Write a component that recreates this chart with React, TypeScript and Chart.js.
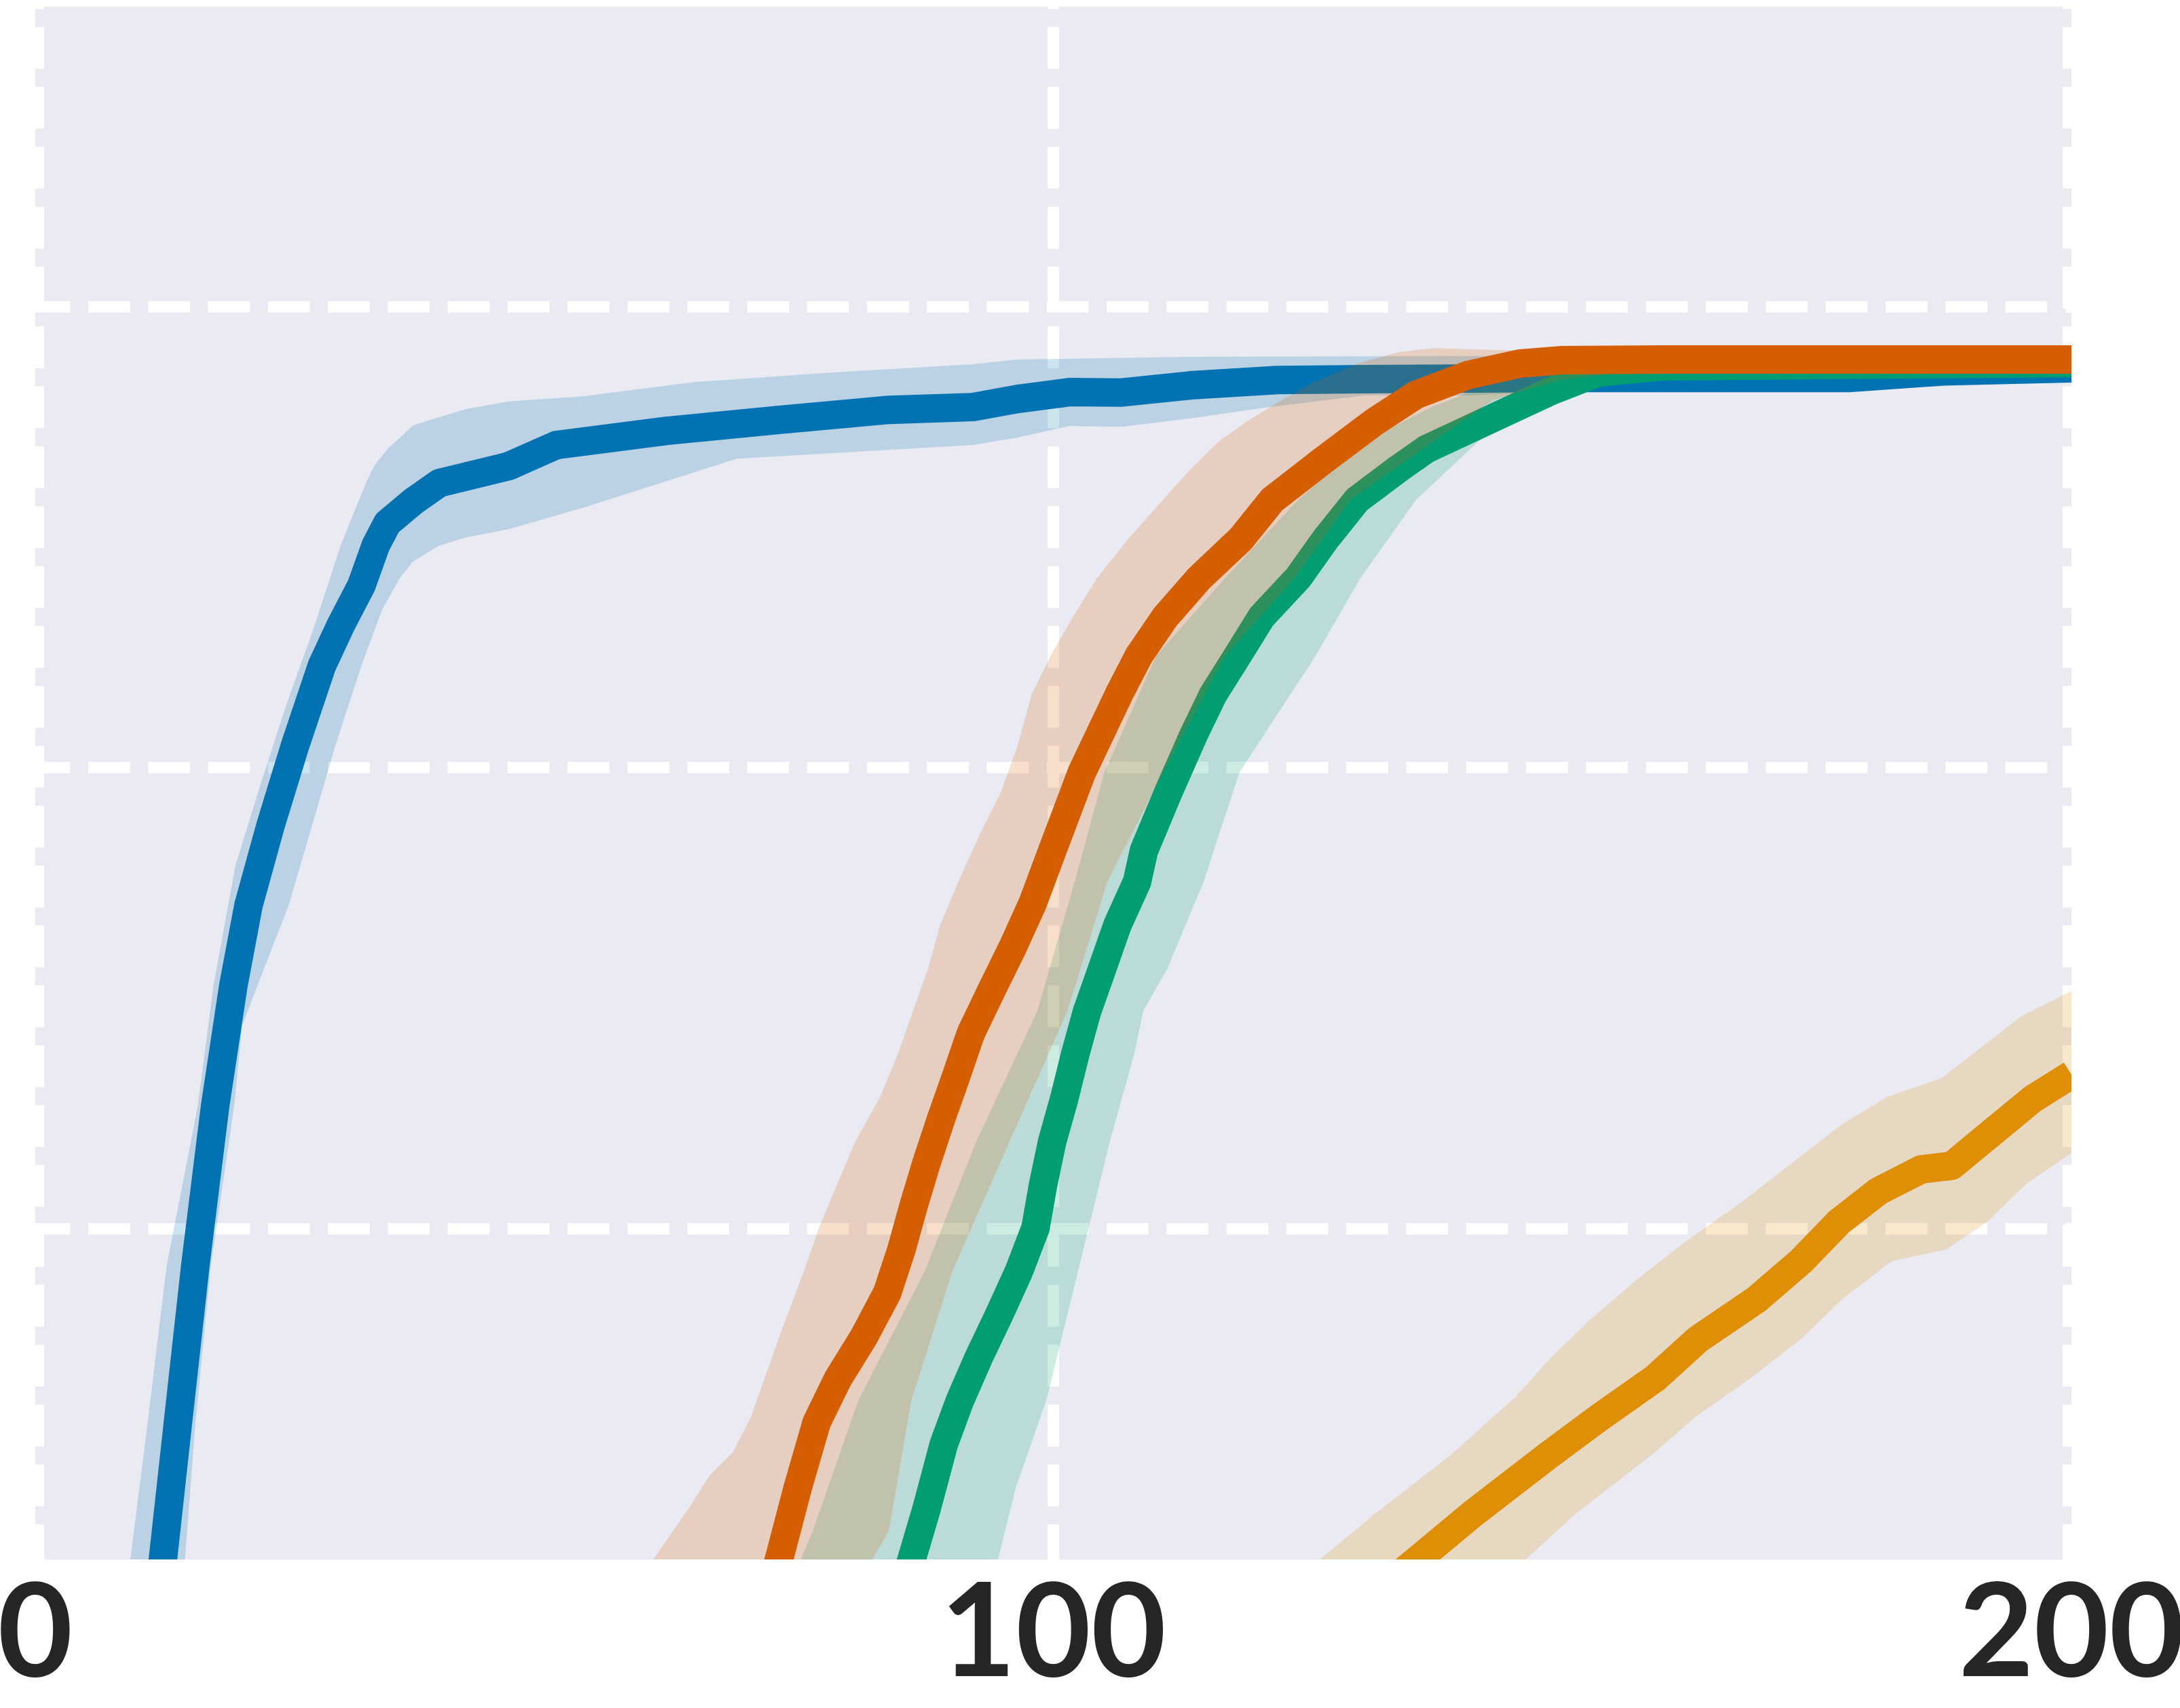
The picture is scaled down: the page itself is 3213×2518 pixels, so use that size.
import React, { useEffect, useRef } from 'react';
import { Chart, registerables } from 'chart.js';

Chart.register(...registerables);

type P = [number, number];

// ---- axis values ----
const xTickValues = [0, 100, 200];
const yGridValues = [0.5, 0.75, 1.0];
const xMin = 0;
const xMax = 200;
const yMin = 0.3204;
const yMax = 1.1629;

// ---- series: blue ----
const blueMean: P[] = [
  [11.8, 0.2833], [12.53, 0.3201], [13.98, 0.3931], [15.72, 0.4799], [17.67, 0.5667], [19.46, 0.6319],
  [20.94, 0.6753], [23.11, 0.7187], [25.52, 0.7621], [28.16, 0.8055], [29.99, 0.8272], [32.04, 0.849],
  [33.44, 0.8706], [34.59, 0.8828], [37.13, 0.8945], [39.69, 0.9045], [46.52, 0.9137], [51.18, 0.9251],
  [62.05, 0.9328], [72.98, 0.9387], [83.91, 0.9442], [92.1, 0.9457], [96.5, 0.9501], [101.6, 0.9538],
  [106.7, 0.9536], [113.5, 0.9575], [122.0, 0.9604], [130.5, 0.9608], [149.8, 0.9615], [178.1, 0.9615],
  [187.8, 0.9652], [200, 0.9667],
];
const blueUpper: P[] = [
  [8.49, 0.2833], [9.33, 0.3201], [11.0, 0.3931], [12.91, 0.4799], [15.97, 0.5667], [17.5, 0.6319],
  [19.66, 0.6969], [22.09, 0.7404], [24.64, 0.7838], [27.44, 0.8272], [29.99, 0.8706], [31.26, 0.888],
  [32.55, 0.9054], [33.31, 0.914], [34.59, 0.9229], [35.85, 0.9293], [37.12, 0.9358], [42.24, 0.9445],
  [46.52, 0.9488], [53.92, 0.9516], [64.78, 0.9593], [78.44, 0.9645], [92.1, 0.9689], [96.5, 0.9715],
  [113.5, 0.973], [130.5, 0.9733], [200, 0.9744],
];
const blueLower: P[] = [
  [14.18, 0.2833], [14.7, 0.3201], [15.71, 0.3931], [17.24, 0.4799], [19.54, 0.5667], [20.31, 0.6101],
  [21.83, 0.6319], [24.89, 0.6753], [27.19, 0.7187], [29.48, 0.7621], [32.04, 0.8055], [34.08, 0.8359],
  [35.85, 0.8533], [37.13, 0.862], [39.69, 0.8706], [42.24, 0.8749], [46.52, 0.8795], [53.92, 0.8913],
  [68.91, 0.9177], [92.1, 0.9251], [96.5, 0.9292], [101.57, 0.9354], [106.7, 0.935], [113.5, 0.9396],
  [120.3, 0.945], [130.5, 0.952], [140.7, 0.952], [149.8, 0.9545], [178.1, 0.9553], [200, 0.9593],
];

// ---- series: orange ----
const orangeMean: P[] = [
  [127.69, 0.2833], [135.73, 0.3201], [141.15, 0.345], [148.55, 0.3766], [153.73, 0.3978], [159.15, 0.4189],
  [163.35, 0.44], [169.01, 0.4612], [173.45, 0.4823], [177.14, 0.5034], [181.07, 0.5203], [185.27, 0.5321],
  [188.24, 0.534], [192.18, 0.552], [196.13, 0.57], [200, 0.5835],
];
const orangeUpper: P[] = [
  [118.09, 0.2833], [126.12, 0.3201], [131.54, 0.345], [138.93, 0.3766], [145.35, 0.4084], [148.8, 0.4294],
  [152.75, 0.4506], [157.18, 0.4717], [162.11, 0.4929], [167.53, 0.514], [172.46, 0.5351], [177.39, 0.5562],
  [181.81, 0.5711], [187.25, 0.5816], [190.2, 0.5942], [195.14, 0.6154], [200, 0.6288],
];
const orangeLower: P[] = [
  [139.02, 0.2833], [146.33, 0.3201], [151.26, 0.345], [158.66, 0.3766], [163.08, 0.3978], [168.52, 0.4189],
  [173.45, 0.44], [177.39, 0.4612], [182.33, 0.4823], [187.74, 0.4886], [191.67, 0.5034], [195.64, 0.5245],
  [200, 0.5409],
];

// ---- series: green ----
const greenMean: P[] = [
  [84.09, 0.2833], [86.06, 0.3201], [87.54, 0.3478], [89.24, 0.383], [90.82, 0.4066], [92.66, 0.4299],
  [94.69, 0.4534], [96.62, 0.4768], [98.25, 0.5004], [99.0, 0.524], [99.89, 0.5473], [101.08, 0.5707],
  [102.13, 0.5942], [103.31, 0.6178], [104.8, 0.6411], [106.29, 0.6646], [108.22, 0.6881], [108.9, 0.7051],
  [111.3, 0.7368], [113.83, 0.7685], [115.69, 0.7897], [118.09, 0.8108], [120.47, 0.832], [124.03, 0.853],
  [126.76, 0.8742], [129.82, 0.8953], [133.89, 0.9122], [136.62, 0.9228], [140.69, 0.9333], [144.79, 0.9439],
  [148.87, 0.9544], [153.55, 0.9645], [159.81, 0.9678], [200, 0.9696],
];
const greenUpper: P[] = [
  [72.84, 0.2833], [75.17, 0.3201], [76.37, 0.3359], [80.84, 0.4066], [87.37, 0.4768], [92.44, 0.5473],
  [98.41, 0.6178], [102.1, 0.6881], [105.0, 0.7474], [110.1, 0.8108], [116.89, 0.853], [124.03, 0.8953],
  [130.49, 0.927], [137.15, 0.9457], [143.15, 0.9586], [153.15, 0.9667], [200, 0.9715],
];
const greenLower: P[] = [
  [92.5, 0.2833], [94.54, 0.3201], [96.32, 0.3595], [99.3, 0.4066], [101.38, 0.4534], [103.47, 0.5004],
  [105.55, 0.5473], [107.92, 0.5942], [108.82, 0.6178], [111.2, 0.6411], [112.98, 0.6646], [114.76, 0.6881],
  [118.26, 0.7474], [125.76, 0.8108], [130.16, 0.853], [135.62, 0.8953], [141.73, 0.927], [146.75, 0.9479],
  [150.82, 0.9591], [156.48, 0.9641], [200, 0.9678],
];

// ---- series: red ----
const redMean: P[] = [
  [71.28, 0.2833], [73.03, 0.3201], [74.9, 0.3595], [76.75, 0.3948], [78.83, 0.4183], [81.44, 0.4417],
  [83.68, 0.4651], [85.08, 0.4886], [86.26, 0.5121], [87.54, 0.5356], [88.94, 0.559], [90.44, 0.5825],
  [91.9, 0.606], [93.94, 0.6294], [96.03, 0.6529], [97.96, 0.6764], [99.9, 0.7051], [102.79, 0.7474],
  [106.43, 0.7897], [108.4, 0.8108], [111.02, 0.832], [114.36, 0.853], [118.43, 0.8742], [121.49, 0.8953],
  [126.42, 0.9164], [131.52, 0.9376], [135.6, 0.9523], [140.69, 0.963], [145.82, 0.9693], [149.82, 0.9711],
  [160, 0.9715], [200, 0.9715],
];
const redUpper: P[] = [
  [57.98, 0.2833], [60.72, 0.3205], [64.41, 0.3499], [66.18, 0.3657], [68.5, 0.3785], [70.28, 0.3974],
  [71.31, 0.4135], [73.11, 0.4417], [75.5, 0.4768], [76.97, 0.5004], [78.77, 0.524], [80.55, 0.5473],
  [82.93, 0.5707], [84.7, 0.5942], [86.2, 0.6178], [87.7, 0.6411], [88.88, 0.6646], [90.67, 0.6881],
  [92.8, 0.7142], [94.84, 0.7366], [96.5, 0.7622], [97.86, 0.7897], [99.73, 0.8108], [101.94, 0.832],
  [104.3, 0.853], [107.37, 0.8742], [110.76, 0.8953], [113.5, 0.9122], [116.23, 0.927], [118.94, 0.9376],
  [122.01, 0.9481], [125.41, 0.9587], [129.82, 0.9693], [133.89, 0.9755], [137.29, 0.9777], [144.09, 0.9766],
  [156.48, 0.9752], [200, 0.9733],
];
const redLower: P[] = [
  [79.84, 0.2833], [82.17, 0.3201], [83.84, 0.3359], [86.04, 0.4066], [90.08, 0.4768], [95.7, 0.5473],
  [101.37, 0.6178], [105.3, 0.6881], [110.76, 0.7474], [116.89, 0.8108], [123.69, 0.853], [129.16, 0.8953],
  [137.29, 0.927], [143.15, 0.9494], [149.82, 0.9604], [159.81, 0.9671], [200, 0.9696],
];

// ---- styling ----
const BG = '#EAEAF2';
const TEXT = '#262626';
const LINE_W = 42;
const GRID_W = 17;
const DASH = [61.7, 26.6];

const series = [
  { name: 'blue', color: '#0173B2', band: 'rgba(1,115,178,0.2)', mean: blueMean, upper: blueUpper, lower: blueLower },
  { name: 'orange', color: '#DE8F05', band: 'rgba(222,143,5,0.2)', mean: orangeMean, upper: orangeUpper, lower: orangeLower },
  { name: 'green', color: '#029E73', band: 'rgba(2,158,115,0.2)', mean: greenMean, upper: greenUpper, lower: greenLower },
  { name: 'red', color: '#D55E00', band: 'rgba(213,94,0,0.2)', mean: redMean, upper: redUpper, lower: redLower },
];

const toPts = (a: P[]) => a.map(([x, y]) => ({ x, y }));

const bgPlugin = {
  id: 'plotBackground',
  beforeDraw(chart: any) {
    const { ctx, chartArea: a, width, height } = chart;
    ctx.save();
    ctx.fillStyle = '#ffffff';
    ctx.fillRect(0, 0, width, height);
    ctx.fillStyle = BG;
    ctx.fillRect(a.left, a.top, a.right - a.left, a.bottom - a.top);
    ctx.restore();
  },
};

const spinePlugin = {
  id: 'dashedSpines',
  beforeDatasetsDraw(chart: any) {
    const { ctx, chartArea: a } = chart;
    ctx.save();
    ctx.strokeStyle = '#ffffff';
    ctx.lineWidth = 26;
    ctx.setLineDash(DASH);
    for (const x of [a.left, a.right]) {
      ctx.lineDashOffset = 58.5;
      ctx.beginPath();
      ctx.moveTo(x, a.top);
      ctx.lineTo(x, a.bottom);
      ctx.stroke();
    }
    ctx.restore();
  },
};

export default function App() {
  const ref = useRef<HTMLCanvasElement | null>(null);

  useEffect(() => {
    if (!ref.current) return;
    const datasets: any[] = [];
    const n = series.length;
    series.forEach((s, i) => {
      const layer = (n - 1 - i) * 2; // later series drawn on top
      datasets.push({
        label: s.name + ' band',
        data: [...toPts(s.upper), ...toPts(s.lower).reverse()],
        backgroundColor: s.band,
        borderWidth: 0,
        pointRadius: 0,
        tension: 0,
        fill: 'shape',
        order: layer + 1,
      });
      datasets.push({
        label: s.name,
        data: toPts(s.mean),
        borderColor: s.color,
        borderWidth: LINE_W,
        borderJoinStyle: 'round',
        borderCapStyle: 'butt',
        tension: 0,
        pointRadius: 0,
        fill: false,
        clip: 0,
        order: layer,
      });
    });

    const chart = new Chart(ref.current, {
      type: 'line',
      data: { datasets },
      plugins: [bgPlugin, spinePlugin],
      options: {
        animation: false,
        responsive: false,
        devicePixelRatio: 1,
        events: [],
        layout: { padding: { left: 52, right: 160, top: 10, bottom: 0 } },
        elements: { line: { tension: 0, capBezierPoints: false } },
        plugins: {
          legend: { display: false },
          tooltip: { enabled: false },
          title: { display: false },
        },
        scales: {
          x: {
            type: 'linear',
            min: xMin,
            max: xMax,
            afterBuildTicks: (scale: any) => {
              scale.ticks = xTickValues.map((v) => ({ value: v }));
            },
            afterFit: (scale: any) => {
              scale.paddingLeft = 0;
              scale.paddingRight = 0;
              scale.height = 219;
            },
            grid: {
              drawTicks: false,
              lineWidth: GRID_W,
              color: (c: any) => (c.tick && c.tick.value === 100 ? '#ffffff' : 'rgba(0,0,0,0)'),
            },
            border: { display: false, dash: DASH, dashOffset: 58.5 },
            ticks: {
              autoSkip: false,
              maxRotation: 0,
              minRotation: 0,
              padding: 1,
              color: TEXT,
              font: { family: 'Lato', weight: 'bold', size: 191, lineHeight: 1.15 },
              callback: (v: any) => String(v),
            },
          },
          y: {
            type: 'linear',
            min: yMin,
            max: yMax,
            afterBuildTicks: (scale: any) => {
              scale.ticks = yGridValues.map((v) => ({ value: v }));
            },
            afterFit: (scale: any) => {
              scale.width = 0;
            },
            grid: { drawTicks: false, lineWidth: GRID_W, color: '#ffffff' },
            border: { display: false, dash: DASH, dashOffset: 10.3 },
            ticks: { display: false },
          },
        },
      } as any,
    });
    return () => chart.destroy();
  }, []);

  return (
    <div style={{ position: 'absolute', left: 0, top: 0, width: 3213, height: 2518, background: '#fff' }}>
      <canvas ref={ref} width={3213} height={2518} style={{ display: 'block', width: 3213, height: 2518 }} />
    </div>
  );
}
